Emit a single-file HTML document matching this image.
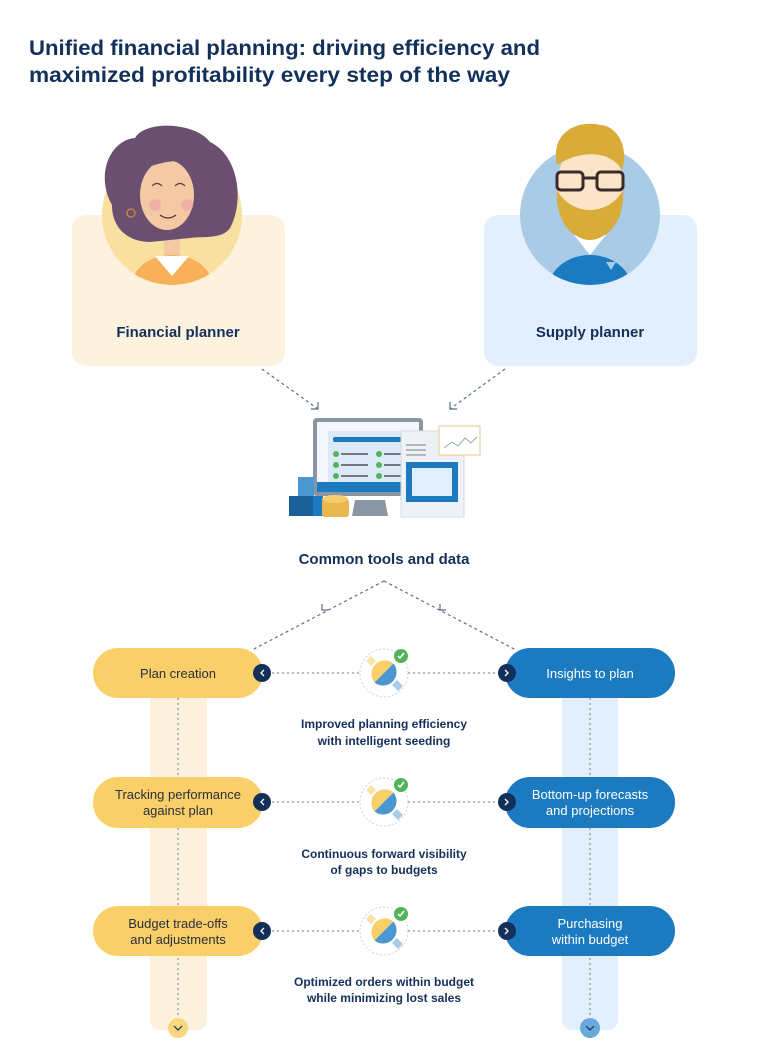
<!DOCTYPE html>
<html><head><meta charset="utf-8"><style>
html,body{margin:0;padding:0;background:#fff;}
svg{display:block;}
text{font-family:"Liberation Sans",sans-serif;}
</style></head><body>
<svg width="768" height="1056" viewBox="0 0 768 1056" xmlns="http://www.w3.org/2000/svg">
<defs>
<clipPath id="cl"><circle cx="172" cy="215" r="70"/></clipPath>
<clipPath id="cr"><circle cx="590" cy="215" r="70"/></clipPath>
<g id="plug">
  <circle r="24" fill="#fff" stroke="#c9d3de" stroke-dasharray="2 2"/>
  <path d="M-13 -17 l-5 5 l5 5 l5 -5 z" fill="#fbe3a6"/>
  <path d="M13 7 l-5 5 l6 6 l5 -5 z" fill="#a9cbe6"/>
  <path d="M-9.5 9.5 A13.5 13.5 0 0 1 9.5 -9.5 Z" fill="#f9cf69"/>
  <path d="M9.5 -9.5 A13.5 13.5 0 0 1 -9.5 9.5 Z" fill="#4a97d2"/>
  <circle cx="17" cy="-17" r="7" fill="#52b35a"/>
  <path d="M14 -17 l2 2 l4 -5" stroke="#fff" stroke-width="1.5" fill="none"/>
</g>
</defs>

<text x="29" y="55" font-size="21" font-weight="bold" fill="#13305a" textLength="511" lengthAdjust="spacingAndGlyphs">Unified financial planning: driving efficiency and</text>
<text x="29" y="82" font-size="21" font-weight="bold" fill="#13305a" textLength="481" lengthAdjust="spacingAndGlyphs">maximized profitability every step of the way</text>

<!-- cards -->
<rect x="72" y="215" width="213" height="151" rx="14" fill="#fdf2de"/>
<rect x="484" y="215" width="213" height="151" rx="14" fill="#e3effd"/>
<circle cx="172" cy="215" r="70" fill="#f9e0a0"/>
<circle cx="590" cy="215" r="70" fill="#a9cbe6"/>
<!-- woman -->
<g clip-path="url(#cl)">
  <ellipse cx="172" cy="285" rx="40" ry="30" fill="#f8b05a"/>
  <path d="M155 256 l17 20 l17 -20 z" fill="#fff"/>
  <rect x="164" y="230" width="16" height="25" fill="#f5c9a4"/>
</g>
<path d="M112 205 C95 175 110 140 135 138 C145 120 195 122 210 142 C238 155 245 200 230 228 C222 240 200 236 190 238 L150 242 C130 242 112 230 112 205 Z" fill="#6a4f70"/>
<ellipse cx="167" cy="195" rx="27" ry="35" fill="#f5c9a4"/>
<path d="M138 168 C148 148 182 146 200 165 C185 158 160 160 138 172 Z" fill="#6a4f70"/>
<circle cx="155" cy="205" r="6" fill="#eeb1a7"/>
<circle cx="187" cy="205" r="6" fill="#eeb1a7"/>
<path d="M152 186 q5 -5 10 0 M175 186 q5 -5 10 0 M160 215 q8 6 16 0" stroke="#5a3a3a" stroke-width="1.2" fill="none"/>
<circle cx="131" cy="213" r="4" fill="none" stroke="#d08a3a" stroke-width="1.3"/>
<!-- man -->
<g clip-path="url(#cr)">
  <ellipse cx="590" cy="290" rx="42" ry="35" fill="#1b7ac0"/>
  <path d="M574 235 l16 20 l16 -20 z" fill="#fff"/>
  <path d="M606 262 l5 8 l5 -8 z" fill="#a9cbe6"/>
</g>
<ellipse cx="590" cy="185" rx="33" ry="42" fill="#fbe5c8"/>
<path d="M557 190 C555 230 580 240 590 240 C600 240 625 230 623 190 C615 205 600 210 590 210 C580 210 565 205 557 190 Z" fill="#d9ab38"/>
<path d="M557 165 C550 130 580 120 600 125 C615 125 630 145 622 170 C610 150 580 150 557 165 Z" fill="#d9ab38"/>
<rect x="557" y="172" width="26" height="18" rx="4" fill="none" stroke="#3a2a2a" stroke-width="3"/>
<rect x="597" y="172" width="26" height="18" rx="4" fill="none" stroke="#3a2a2a" stroke-width="3"/>
<path d="M583 178 h14" stroke="#3a2a2a" stroke-width="3"/>

<text x="178" y="337" font-size="15" font-weight="bold" fill="#13305a" text-anchor="middle">Financial planner</text>
<text x="590" y="337" font-size="15" font-weight="bold" fill="#13305a" text-anchor="middle">Supply planner</text>

<!-- arrows -->
<g stroke="#5a6f88" stroke-width="1.2" stroke-dasharray="3 3" fill="none">
  <path d="M262 369 L318 409"/><path d="M505 369 L450 409"/>
  <path d="M384 581 L252 650"/><path d="M384 581 L516 650"/>
</g>
<g stroke="#5a6f88" stroke-width="1.2" fill="none">
  <path d="M311 409 h7 v-7"/><path d="M457 409 h-7 v-7"/>
  <path d="M322 604 v6 h6"/>
  <path d="M440 604 v6 h6"/>
</g>

<!-- monitor illustration -->
<rect x="313" y="418" width="110" height="78" rx="4" fill="#8a96a3"/>
<rect x="317" y="422" width="102" height="70" fill="#f3f6fa"/>
<rect x="328" y="431" width="90" height="52" fill="#dce9f7"/>
<rect x="333" y="437" width="70" height="5" rx="2" fill="#1b7ac0"/>
<g fill="#52b35a"><circle cx="336" cy="454" r="3"/><circle cx="336" cy="465" r="3"/><circle cx="336" cy="476" r="3"/><circle cx="379" cy="454" r="3"/><circle cx="379" cy="465" r="3"/><circle cx="379" cy="476" r="3"/></g>
<g stroke="#555" stroke-width="1.5"><path d="M341 454 h27 M341 465 h27 M341 476 h27 M384 454 h20 M384 465 h20 M384 476 h20"/></g>
<rect x="317" y="482" width="102" height="10" fill="#1b7ac0"/>
<path d="M355 500 h30 l3 16 h-36 z" fill="#8a96a3"/>
<rect x="401" y="431" width="63" height="86" fill="#eef1f5" stroke="#d5dbe2"/>
<path d="M406 445 h20 M406 450 h20 M406 455 h20" stroke="#8a96a3" stroke-width="1.2"/>
<rect x="406" y="462" width="52" height="40" fill="#1b7ac0"/>
<rect x="412" y="468" width="40" height="28" fill="#e3effd"/>
<rect x="439" y="426" width="41" height="29" fill="#fff" stroke="#e3c98a"/>
<path d="M444 448 l8 -6 l6 4 l7 -8 l6 5 l6 -6" stroke="#9aa" fill="none"/>
<rect x="289" y="496" width="24" height="20" fill="#1b5f98"/>
<rect x="298" y="477" width="16" height="19" fill="#4a97d2"/>
<rect x="313" y="496" width="10" height="20" fill="#1b7ac0"/>
<rect x="322" y="499" width="27" height="18" rx="3" fill="#e8b84f"/>
<ellipse cx="335" cy="499" rx="13" ry="4" fill="#f5cd6a"/>

<text x="384" y="564" font-size="15" font-weight="bold" fill="#13305a" text-anchor="middle">Common tools and data</text>

<!-- bands -->
<rect x="150" y="690" width="57" height="340" rx="10" fill="#fdf1de"/>
<rect x="562" y="690" width="56" height="340" rx="10" fill="#e3effd"/>
<g stroke="#8a96a3" stroke-width="1.3" stroke-dasharray="2 3">
  <path d="M178 698 V1018"/><path d="M590 698 V1018"/>
  <path d="M272 673 H360"/><path d="M408 673 H496"/>
  <path d="M272 802 H360"/><path d="M408 802 H496"/>
  <path d="M272 931 H360"/><path d="M408 931 H496"/>
</g>
<circle cx="178" cy="1028" r="10" fill="#f9d77e"/>
<circle cx="590" cy="1028" r="10" fill="#6aa9dc"/>
<path d="M174 1026 l4 4 l4 -4" stroke="#13305a" fill="none" stroke-width="1.2"/>
<path d="M586 1026 l4 4 l4 -4" stroke="#13305a" fill="none" stroke-width="1.2"/>

<!-- pills -->
<g fill="#f9cf69">
  <rect x="93" y="648" width="170" height="50" rx="25"/>
  <rect x="93" y="777" width="170" height="51" rx="25"/>
  <rect x="93" y="906" width="170" height="50" rx="25"/>
</g>
<g fill="#1b7ac0">
  <rect x="505" y="648" width="170" height="50" rx="25"/>
  <rect x="505" y="777" width="170" height="51" rx="25"/>
  <rect x="505" y="906" width="170" height="50" rx="25"/>
</g>
<g font-size="13" text-anchor="middle" fill="#2a2f3a">
  <text x="178" y="678">Plan creation</text>
  <text x="178" y="799">Tracking performance</text><text x="178" y="815">against plan</text>
  <text x="178" y="928">Budget trade-offs</text><text x="178" y="944">and adjustments</text>
</g>
<g font-size="13" text-anchor="middle" fill="#fff">
  <text x="590" y="678">Insights to plan</text>
  <text x="590" y="799">Bottom-up forecasts</text><text x="590" y="815">and projections</text>
  <text x="590" y="928">Purchasing</text><text x="590" y="944">within budget</text>
</g>
<g fill="#13305a">
  <circle cx="262" cy="673" r="9"/><circle cx="262" cy="802" r="9"/><circle cx="262" cy="931" r="9"/>
  <circle cx="507" cy="673" r="9"/><circle cx="507" cy="802" r="9"/><circle cx="507" cy="931" r="9"/>
</g>
<g stroke="#fff" stroke-width="1.3" fill="none">
  <path d="M264 670 l-3 3 l3 3 M264 799 l-3 3 l3 3 M264 928 l-3 3 l3 3"/>
  <path d="M505 670 l3 3 l-3 3 M505 799 l3 3 l-3 3 M505 928 l3 3 l-3 3"/>
</g>
<use href="#plug" x="384" y="673"/>
<use href="#plug" x="384" y="802"/>
<use href="#plug" x="384" y="931"/>

<g font-size="12" font-weight="bold" text-anchor="middle" fill="#13305a">
  <text x="384" y="728">Improved planning efficiency</text><text x="384" y="745">with intelligent seeding</text>
  <text x="384" y="858">Continuous forward visibility</text><text x="384" y="874">of gaps to budgets</text>
  <text x="384" y="986">Optimized orders within budget</text><text x="384" y="1002">while minimizing lost sales</text>
</g>
</svg>
</body></html>
